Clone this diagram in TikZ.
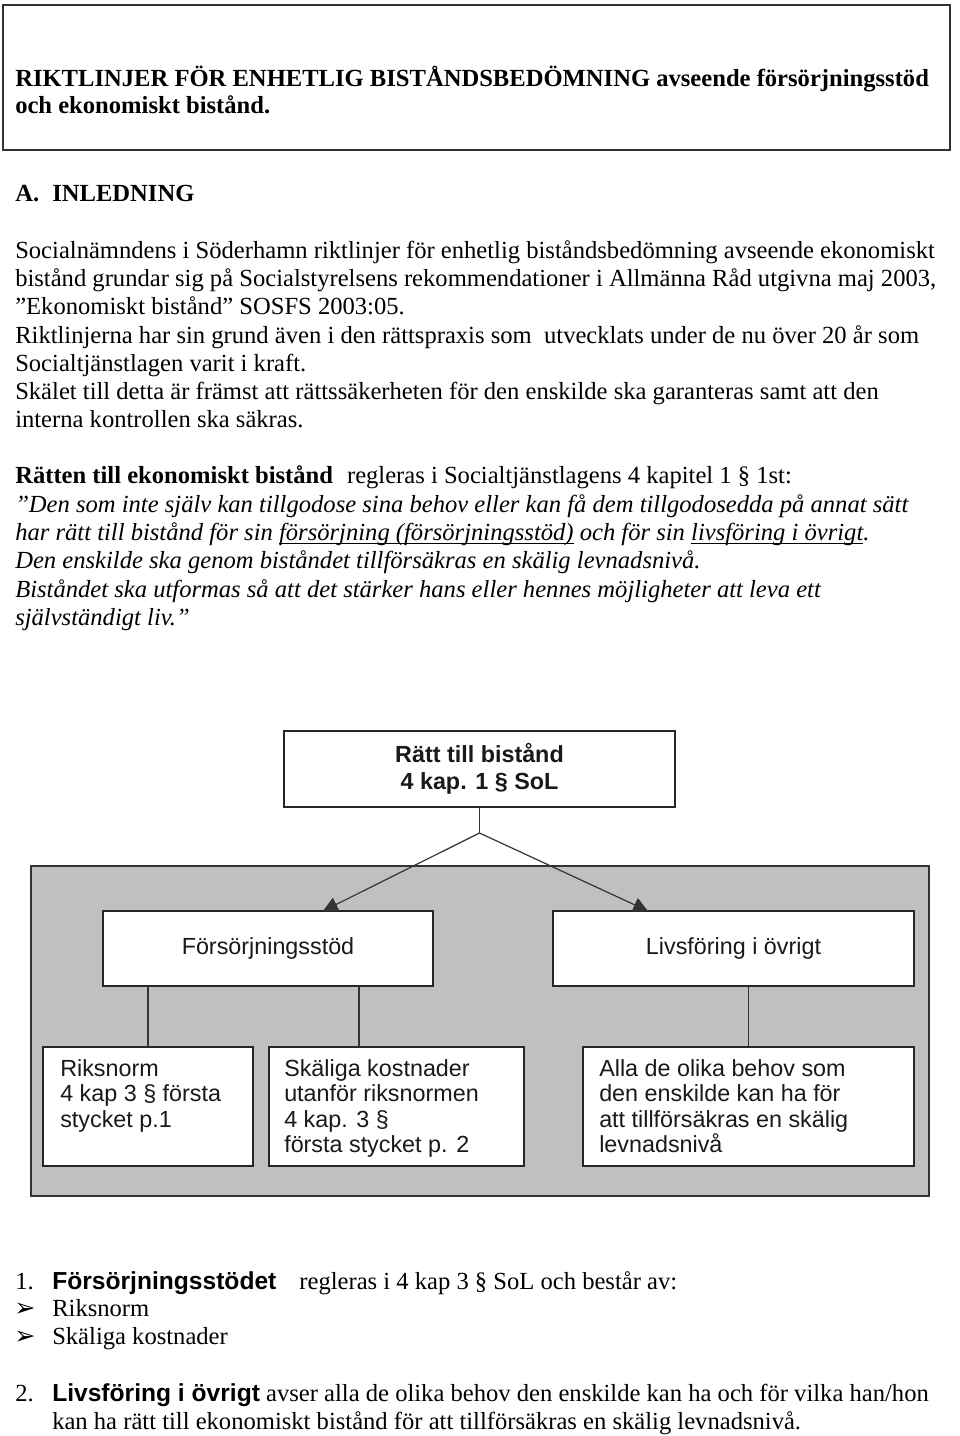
\documentclass[tikz,border=0pt]{standalone}
\usepackage{fontspec}
\setmainfont{Liberation Serif}
\setsansfont{Liberation Sans}
\newfontfamily\dejavu{DejaVu Sans}
\usetikzlibrary{arrows.meta,fit,calc}
\newdimen\px \px=0.75pt
\newcommand\myul[1]{\setbox0\hbox{#1}\rlap{\rule[-4\px]{\wd0}{1.1\px}}\box0\relax}
\newcommand\bodysize{\fontsize{18.45}{21}\selectfont}
\newcommand\boxsize{\fontsize{17.5}{19.1}\selectfont}
\definecolor{panelgray}{RGB}{192,192,192}
\tikzset{
  body/.style={anchor=base west, inner sep=0pt, font=\bodysize},
  bbody/.style={anchor=base west, inner sep=0pt, font=\bodysize\bfseries},
  ibody/.style={anchor=base west, inner sep=0pt, font=\bodysize\itshape},
  bullet/.style={anchor=base west, inner sep=0pt, font=\dejavu\fontsize{19}{21}\selectfont},
  frame/.style={inner sep=0pt, draw=black!80, line width=1.2pt},
  panel/.style={inner sep=0pt, draw=black!80, line width=1.2pt, fill=panelgray},
  dbox/.style={inner sep=0pt, draw=black!85, line width=1.1pt, fill=white},
  dtxt/.style={inner sep=0pt, font=\sffamily\boxsize, text=black!90},
  dmulti/.style={inner sep=0pt, anchor=north west, align=left, font=\sffamily\boxsize, text=black!90},
  conn/.style={draw=black!80, line width=0.9pt},
  arr/.style={conn, -{Triangle[length=11pt,width=11pt]}}
}
\begin{document}
\begin{tikzpicture}[x=0.75pt,y=-0.75pt]
\useasboundingbox (0,0) rectangle (960,1436);
\fill[white] (0,0) rectangle (960,1436);

% title frame
\coordinate (tb1) at (3,5); \coordinate (tb2) at (950,150);
\node (titlebox) [frame, fit=(tb1)(tb2)] {};
\node (t1) [bbody] at (15,86) {RIKTLINJER FÖR ENHETLIG BISTÅNDSBEDÖMNING avseende försörjningsstöd};
\node (t2) [bbody] at (15,113) {och ekonomiskt bistånd.};

% A. Inledning
\node (h1) [bbody] at (15,201) {A.};
\node (h2) [bbody] at (52,201) {INLEDNING};

\node (p1) [body] at (15,258) {Socialnämndens i Söderhamn riktlinjer för enhetlig biståndsbedömning avseende ekonomiskt};
\node (p2) [body] at (15,286) {bistånd grundar sig på Socialstyrelsens rekommendationer i Allmänna Råd utgivna maj 2003,};
\node (p3) [body] at (15,314) {”Ekonomiskt bistånd” SOSFS 2003:05.};
\node (p4) [body] at (15,343) {Riktlinjerna har sin grund även i den rättspraxis som\ \ utvecklats under de nu över 20 år som};
\node (p5) [body] at (15,371) {Socialtjänstlagen varit i kraft.};
\node (p6) [body] at (15,399) {Skälet till detta är främst att rättssäkerheten för den enskilde ska garanteras samt att den};
\node (p7) [body] at (15,427) {interna kontrollen ska säkras.};

\node (r1) [body] at (15,483) {\textbf{Rätten till ekonomiskt bistånd}\hspace{14\px}regleras i Socialtjänstlagens 4 kapitel 1 § 1st:};
\node (r2) [ibody] at (15,512) {”Den som inte själv kan tillgodose sina behov eller kan få dem tillgodosedda på annat sätt};
\node (r3) [ibody] at (15,540) {har rätt till bistånd för sin \myul{försörjning (försörjningsstöd)} och för sin \myul{livsföring i övrigt}.};
\node (r4) [ibody] at (15,568) {Den enskilde ska genom biståndet tillförsäkras en skälig levnadsnivå.};
\node (r5) [ibody] at (15,597) {Biståndet ska utformas så att det stärker hans eller hennes möjligheter att leva ett};
\node (r6) [ibody] at (15,625) {självständigt liv.”};

% diagram
\coordinate (g1) at (31,866); \coordinate (g2) at (929,1196);
\node (panel) [panel, fit=(g1)(g2)] {};

\coordinate (a1) at (284,731); \coordinate (a2) at (675,807);
\node (top) [dbox, fit=(a1)(a2)] {};
\coordinate (f1) at (103,911); \coordinate (f2) at (433,986);
\node (fs) [dbox, fit=(f1)(f2)] {};
\coordinate (v1) at (553,911); \coordinate (v2) at (914,986);
\node (lv) [dbox, fit=(v1)(v2)] {};
\coordinate (k1) at (43,1047); \coordinate (k2) at (253,1166);
\node (rn) [dbox, fit=(k1)(k2)] {};
\coordinate (s1) at (269,1047); \coordinate (s2) at (524,1166);
\node (sk) [dbox, fit=(s1)(s2)] {};
\coordinate (l1) at (583,1047); \coordinate (l2) at (914,1166);
\node (al) [dbox, fit=(l1)(l2)] {};

\node (toptxt) [dtxt, font=\sffamily\bfseries\fontsize{17.5}{20.2}\selectfont, align=center] at (top.center) {Rätt till bistånd\\4 kap. 1 § SoL};
\node (fstxt) [dtxt] at (fs.center) {Försörjningsstöd};
\node (lvtxt) [dtxt] at (lv.center) {Livsföring i övrigt};
\node (rntxt) [dmulti] at (60,1059) {Riksnorm\\4 kap 3 § första\\stycket p.1};
\node (sktxt) [dmulti] at (284,1059) {Skäliga kostnader\\utanför riksnormen\\4 kap. 3 §\\första stycket p. 2};
\node (altxt) [dmulti] at (599,1059) {Alla de olika behov som\\den enskilde kan ha för\\att tillförsäkras en skälig\\levnadsnivå};

\coordinate (apex) at (479.5,833);
\coordinate (tipL) at (323,911);
\coordinate (tipR) at (648,911);
\draw[conn] (top.south) -- (apex);
\draw[arr] (apex) -- (tipL);
\draw[arr] (apex) -- (tipR);
\draw[conn] (rn.north |- fs.south) -- (rn.north);
\coordinate (skin) at ($(sk.north)+(-37.5,0)$);
\draw[conn] (skin |- fs.south) -- (skin);
\draw[conn] (al.north |- lv.south) -- (al.north);

% bottom list
\node (n1) [body] at (15,1289) {1.};
\node (n1t) [body] at (52,1289) {{\sffamily\bfseries Försörjningsstödet}\hspace{23\px}regleras i 4 kap 3 § SoL och består av:};
\node (b1) [bullet] at (14,1316) {➢};
\node (b1t) [body] at (52,1316) {Riksnorm};
\node (b2) [bullet] at (14,1344) {➢};
\node (b2t) [body] at (52,1344) {Skäliga kostnader};
\node (n2) [body] at (15,1401) {2.};
\node (n2t) [body] at (52,1401) {{\sffamily\bfseries Livsföring i övrigt} avser alla de olika behov den enskilde kan ha och för vilka han/hon};
\node (n2c) [body] at (52,1429) {kan ha rätt till ekonomiskt bistånd för att tillförsäkras en skälig levnadsnivå.};
\end{tikzpicture}
\end{document}
